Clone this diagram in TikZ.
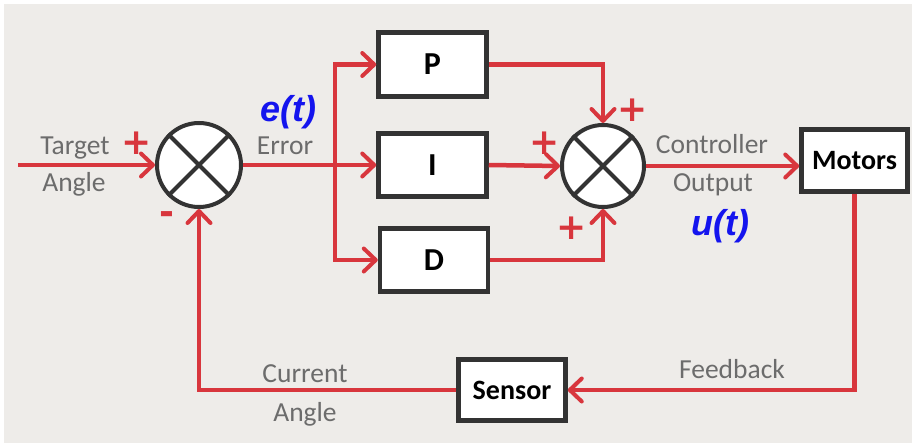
\documentclass[tikz,border=0pt]{standalone}
\usepackage{fontspec}
\setmainfont{Carlito}
\newfontfamily\arialfont{Liberation Sans}
\newfontfamily\signfont{DejaVu Sans}
\usetikzlibrary{arrows.meta}
\definecolor{bg}{HTML}{EEECE9}
\definecolor{wirered}{HTML}{D8363D}
\definecolor{boxline}{HTML}{333333}
\definecolor{labelgray}{HTML}{6C6C6C}
\definecolor{sigblue}{HTML}{1414EE}
\tikzset{
  wire/.style={draw=wirered, line width=4.5pt},
  arr/.style={wire, -{Straight Barb[length=12pt,width=23pt,line width=4pt,round]}},
  blockbox/.style={draw=boxline, fill=white, line width=4.5pt, inner sep=0pt, rectangle},
  sumnode/.style={draw=boxline, fill=white, line width=4pt, circle, inner sep=0pt},
  lbl/.style={text=labelgray, font=\fontsize{27.5}{27.5}\selectfont, anchor=base, inner sep=0pt},
  sig/.style={text=sigblue, font=\arialfont\bfseries\itshape\fontsize{36}{36}\selectfont, anchor=base, inner sep=0pt},
  sign/.style={text=wirered, font=\signfont\bfseries\fontsize{36}{36}\selectfont, inner sep=0pt},
  boxtext/.style={font=\bfseries\fontsize{28}{28}\selectfont},
  pidtext/.style={font=\bfseries\fontsize{32}{32}\selectfont}
}
\begin{document}
\begin{tikzpicture}[x=1pt,y=-1pt]
\useasboundingbox (0,0) rectangle (916,447);
\fill[white] (0,0) rectangle (916,447);
\fill[bg] (4,4) rectangle (912,443);

% blocks
\node[sumnode, minimum size=84pt] (sum1) at (199,165) {};
\node[sumnode, minimum size=82pt] (sum2) at (603,166) {};
\draw[boxline, line width=4pt] (sum1.45) -- (sum1.225) (sum1.135) -- (sum1.315);
\draw[boxline, line width=4pt] (sum2.45) -- (sum2.225) (sum2.135) -- (sum2.315);

\node[blockbox, minimum width=108pt, minimum height=64pt, pidtext] (P) at (432.5,64.5) {P};
\node[blockbox, minimum width=108pt, minimum height=63pt, pidtext] (I) at (432.5,165) {I};
\node[blockbox, minimum width=108pt, minimum height=63pt, pidtext] (D) at (434,260) {D};
\node[blockbox, minimum width=106pt, minimum height=62pt, boxtext] (Motors) at (854.5,160.5) {Motors};
\node[blockbox, minimum width=107pt, minimum height=61pt, boxtext] (Sensor) at (512,390) {Sensor};

% connectors
\coordinate (in) at (18,165);
\coordinate (br) at (335,165);
\draw[arr] (in) -- (sum1.west);
\draw[arr] (sum1.east) -- (I.west);
\draw[arr] (br) |- (P.west);
\draw[arr] (br) |- (D.west);
\draw[arr] (I.east) -- (sum2.west);
\draw[arr] (P.east) -| (sum2.north);
\draw[arr] (D.east) -| (sum2.south);
\draw[arr] (sum2.east) -- (sum2.east -| Motors.west);
\draw[arr] (Motors.south) |- (Sensor.east);
\draw[arr] (Sensor.west) -| (sum1.south);

% labels
\node[lbl] (tgt) at (75,154) {Target};
\node[lbl] (tgta) at (74,191) {Angle};
\node[lbl] (err) at (285,154) {Error};
\node[lbl] (ctl) at (712,153) {Controller};
\node[lbl] (out) at (713,191) {Output};
\node[lbl] (cur) at (305,382) {Current};
\node[lbl] (cura) at (305,421) {Angle};
\node[lbl] (fb) at (732,378) {Feedback};
\node[sig] (et) at (288,121) {e(t)};
\node[sig] (ut) at (720,235) {u(t)};

% signs
\node[sign] (p1) at (137,143) {+};
\node[sign] (m1) at (167,218) {-};
\node[sign] (p2) at (633,110) {+};
\node[sign] (p3) at (545,143) {+};
\node[sign] (p4) at (572,228) {+};
\end{tikzpicture}
\end{document}
